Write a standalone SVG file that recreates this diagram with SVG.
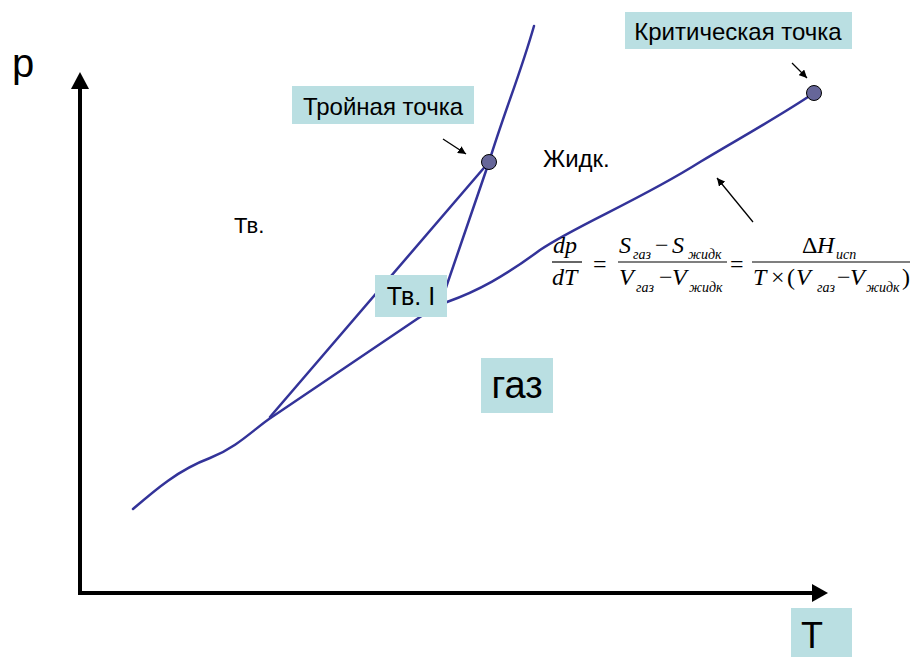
<svg xmlns="http://www.w3.org/2000/svg" width="913" height="657" viewBox="0 0 913 657">
<defs>
<style>
.curve{fill:none;stroke:#333399;stroke-width:2.5;stroke-linecap:round}
.axis{fill:none;stroke:#000;stroke-width:4}
.ptr{fill:none;stroke:#000;stroke-width:1.3}
.box{fill:#BADFE2}
.lbl{font-family:"Liberation Sans",Arial,sans-serif;fill:#000}
.pt{fill:#666699;stroke:#000;stroke-width:1}
.m{font-family:"Liberation Serif","Times New Roman",serif;font-size:24px;fill:#000}
.mi{font-family:"Liberation Serif","Times New Roman",serif;font-size:24px;font-style:italic;fill:#000}
.sub{font-family:"Liberation Serif","Times New Roman",serif;font-size:14px;font-style:italic;fill:#000}
.bar{stroke:#000;stroke-width:1.2}
</style>
<marker id="ah" viewBox="0 0 10 10" refX="10" refY="5" markerWidth="8" markerHeight="8" markerUnits="userSpaceOnUse" orient="auto"><path d="M0,0 L10,5 L0,10 Z" fill="#000"/></marker>
</defs>

<g id="axes">
<line class="axis" x1="80" y1="595" x2="80" y2="88"/>
<path d="M71,89 L80,72 L89,89 Z" fill="#000"/>
<line class="axis" x1="78" y1="593" x2="813" y2="593"/>
<path d="M812,584 L828,593 L812,602 Z" fill="#000"/>
</g>

<g id="connectors">
<path class="curve" d="M133,509 C155,490 178,470 210,458 C238,447 255,428 272,417 L420,317 C430,310 440,305 447,302 C478,291 505,276 540,250 C575,226 640,200 700,162 C740,138 780,116 814,93"/>
<line class="curve" x1="270" y1="417" x2="489" y2="162"/>
<path class="curve" d="M534,26 C520,75 505,110 489,162 L440,305"/>
<line class="ptr" x1="443" y1="139" x2="466" y2="154" marker-end="url(#ah)"/>
<line class="ptr" x1="792" y1="63" x2="807" y2="78" marker-end="url(#ah)"/>
<line class="ptr" x1="753" y1="222" x2="717" y2="178" marker-end="url(#ah)"/>
</g>

<g id="triple-point"><circle class="pt" cx="489" cy="162" r="7.5"/></g>
<g id="critical-point"><circle class="pt" cx="814" cy="93" r="7.5"/></g>

<g id="label-triple">
<rect class="box" x="292" y="86" width="182" height="38"/>
<text class="lbl" x="383" y="115" font-size="24" text-anchor="middle">Тройная точка</text>
</g>
<g id="label-critical">
<rect class="box" x="625" y="12" width="227" height="37"/>
<text class="lbl" x="738" y="40" font-size="24" text-anchor="middle">Критическая точка</text>
</g>
<g id="label-solid1">
<rect class="box" x="375" y="275" width="72" height="42"/>
<text class="lbl" x="411" y="305" font-size="25" text-anchor="middle">Тв. I</text>
</g>
<g id="label-gas">
<rect class="box" x="481" y="358" width="72" height="55"/>
<text class="lbl" x="517" y="398" font-size="38" text-anchor="middle">газ</text>
</g>
<g id="label-T">
<rect class="box" x="791" y="608" width="61" height="49"/>
<text class="lbl" x="812" y="648" font-size="36" text-anchor="middle">T</text>
</g>
<g id="label-p"><text class="lbl" x="12" y="77" font-size="40">p</text></g>
<g id="label-solid"><text class="lbl" x="234" y="233" font-size="22">Тв.</text></g>
<g id="label-liquid"><text class="lbl" x="543" y="167" font-size="24">Жидк.</text></g>

<g id="formula">
<text class="mi" x="553" y="253">dp</text>
<line class="bar" x1="552" y1="262" x2="582" y2="262"/>
<text class="mi" x="552" y="285">dT</text>
<text class="m" x="593" y="272">=</text>
<text class="mi" x="619" y="253">S</text><text class="sub" x="633" y="259">газ</text>
<text class="m" x="655" y="253">−</text>
<text class="mi" x="672" y="253">S</text><text class="sub" x="688" y="259">жидк</text>
<line class="bar" x1="618" y1="262" x2="727" y2="262"/>
<text class="mi" x="619" y="285">V</text><text class="sub" x="636" y="292">газ</text>
<text class="m" x="659" y="285">−</text>
<text class="mi" x="672" y="285">V</text><text class="sub" x="689" y="292">жидк</text>
<text class="m" x="730" y="272">=</text>
<line class="bar" x1="752" y1="262" x2="910" y2="262"/>
<text class="m" x="802" y="253">Δ</text><text class="mi" x="817" y="253">H</text><text class="sub" x="836" y="259">исп</text>
<text class="mi" x="753" y="285">T</text>
<text class="m" x="771" y="285">×</text>
<text class="m" x="787" y="285">(</text>
<text class="mi" x="796" y="285">V</text><text class="sub" x="817" y="292">газ</text>
<text class="m" x="837" y="285">−</text>
<text class="mi" x="850" y="285">V</text><text class="sub" x="866" y="292">жидк</text>
<text class="m" x="902" y="285">)</text>
</g>
</svg>
